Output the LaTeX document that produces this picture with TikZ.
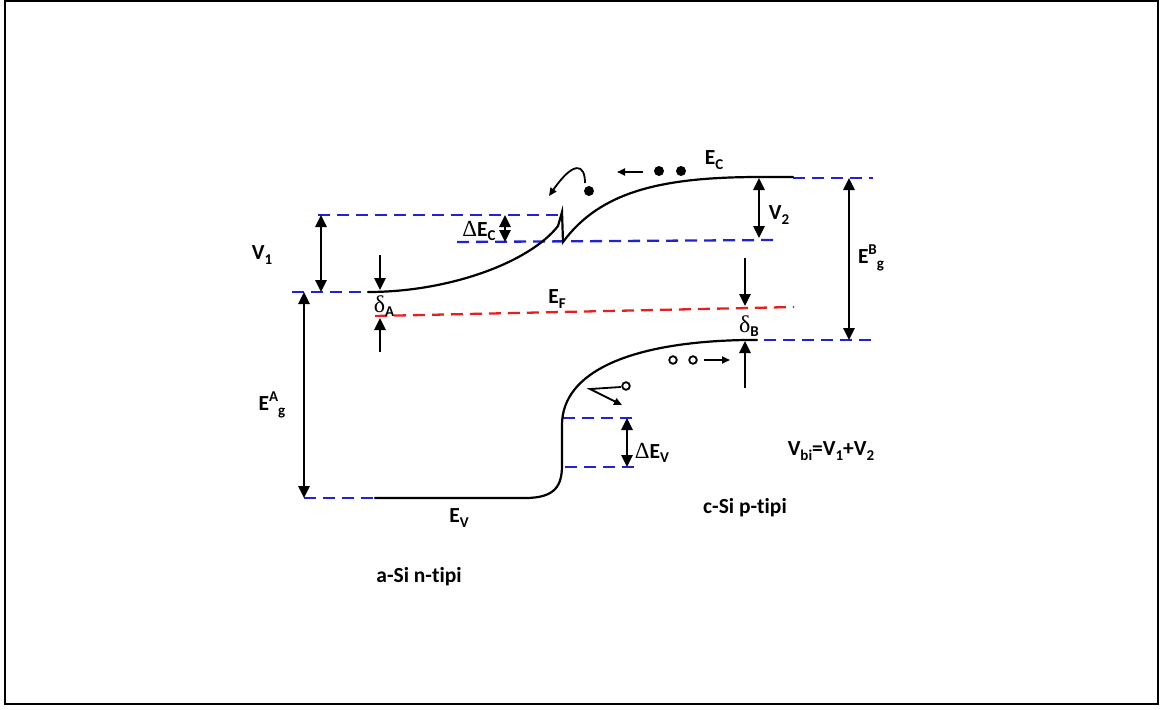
\documentclass[tikz,border=0pt]{standalone}
\usepackage{fontspec}
\setmainfont[Ligatures=NoCommon]{Carlito}
\newfontfamily\grk{Liberation Serif}
\usetikzlibrary{arrows.meta}
\definecolor{lvblue}{RGB}{35,35,205}
\definecolor{lvred}{RGB}{228,32,32}
\newcommand{\lsub}[1]{\raisebox{-0.45ex}{\fontsize{15}{15}\selectfont #1}}
\newcommand{\lsup}[1]{\raisebox{0.9ex}{\fontsize{15}{15}\selectfont #1}}
\tikzset{
  band/.style={line width=2.2pt, line cap=round},
  bdash/.style={line width=2.3pt, lvblue, dash pattern=on 12pt off 7pt},
  rdash/.style={line width=2.3pt, lvred, dash pattern=on 12pt off 7pt},
  darr/.style={line width=2.6pt, {Triangle[length=12pt,width=11pt]}-{Triangle[length=12pt,width=11pt]}},
  sarr/.style={line width=2.6pt, -{Triangle[length=12pt,width=11pt]}},
  tarr/.style={line width=1.8pt, -{Triangle[length=8pt,width=7pt]}},
  lbl/.style={font=\bfseries\fontsize{21.5}{21.5}\selectfont, inner sep=0pt},
  el/.style={fill=black, draw=none},
  hole/.style={draw=black, line width=1.8pt, fill=white}
}
\begin{document}
\begin{tikzpicture}[x=1pt,y=-1pt]
\useasboundingbox (0,0) rectangle (1166,709);
\draw[line width=2.4pt] (5,1) rectangle (1158,704);

% coordinates
\coordinate (v1t) at (321,215); \coordinate (v1b) at (321,292);
\coordinate (egat) at (304,292); \coordinate (egab) at (304,498);
\coordinate (dect) at (505,215); \coordinate (decb) at (505,242);
\coordinate (v2t) at (759,178); \coordinate (v2b) at (759,238);
\coordinate (egbt) at (849,178); \coordinate (egbb) at (849,340);
\coordinate (devt) at (627,418); \coordinate (devb) at (627,467);
\coordinate (dAa) at (380,255); \coordinate (dAb) at (380,290);
\coordinate (dAc) at (380,352); \coordinate (dAd) at (380,318);
\coordinate (dBa) at (745,258); \coordinate (dBb) at (745,306);
\coordinate (dBc) at (745,388); \coordinate (dBd) at (745,341);

% blue dashed levels
\draw[bdash] (318,215) -- (562,215);
\draw[bdash] (457,242) -- (776,240);
\draw[bdash] (793,178) -- (873,178);
\draw[bdash] (292,292) -- (368,292);
\draw[bdash] (745,340) -- (873,340);
\draw[bdash] (304,498) -- (375,498);
\draw[bdash] (563,418) -- (636,418);
\draw[bdash] (565,467) -- (638,467);
% Fermi level
\draw[rdash] (375,316) -- (794,307);

% conduction band
\draw[band] (368,292) .. controls (450,292) and (530,262) .. (558,226) -- (562,212) -- (563,242)
  .. controls (600,192) and (660,177) .. (760,177) -- (793,177);
% valence band
\draw[band] (375,498) -- (525,498) .. controls (556,498) and (562,485) .. (562,465) -- (562,425)
  .. controls (562,372) and (630,342) .. (745,340) -- (757,340);

% arrows
\draw[darr] (v1t) -- (v1b);
\draw[darr] (egat) -- (egab);
\draw[darr] (dect) -- (decb);
\draw[darr] (v2t) -- (v2b);
\draw[darr] (egbt) -- (egbb);
\draw[darr] (devt) -- (devb);
\draw[sarr] (dAa) -- (dAb);
\draw[sarr] (dAc) -- (dAd);
\draw[sarr] (dBa) -- (dBb);
\draw[sarr] (dBc) -- (dBd);

% electrons
\fill[el] (659,171) circle (5);
\fill[el] (681,171) circle (5);
\fill[el] (589,191) circle (5);
\coordinate (ea1) at (643,172); \coordinate (ea2) at (617,172);
\draw[tarr] (ea1) -- (ea2);
\coordinate (ec1) at (585,183); \coordinate (ec2) at (549,196);
\draw[tarr] (ec1) .. controls (585,164) and (574,160) .. (ec2);

% holes
\draw[hole] (673,360) circle (3.8);
\draw[hole] (693,360) circle (3.8);
\coordinate (ha1) at (704,360); \coordinate (ha2) at (730,360);
\draw[tarr] (ha1) -- (ha2);
\draw[hole] (626,386) circle (3.8);
\coordinate (hb1) at (621,387); \coordinate (hb2) at (622,405);
\draw[tarr] (hb1) -- (590,389) -- (hb2);

% labels
\node[lbl] (lv1) at (262,255) {V\lsub{1}};
\node[lbl] (lv2) at (779,215) {V\lsub{2}};
\node[lbl] (lec) at (714,160) {E\lsub{C}};
\node[lbl] (ldec) at (479,231) {{\grk\mdseries\fontsize{23}{23}\selectfont Δ}E\lsub{C}};
\node[lbl] (lef) at (557,299) {E\lsub{F}};
\node[lbl] (lda) at (384,306) {{\grk\mdseries\fontsize{24}{24}\selectfont δ}\lsub{A}};
\node[lbl] (ldb) at (749,326) {{\grk\mdseries\fontsize{24}{24}\selectfont δ}\lsub{B}};
\node[lbl] (legb) at (871,258) {E\lsup{B}\lsub{g}};
\node[lbl] (lega) at (272,405) {E\lsup{A}\lsub{g}};
\node[lbl] (ldev) at (652,453) {{\grk\mdseries\fontsize{23}{23}\selectfont Δ}E\lsub{V}};
\node[lbl] (lvbi) at (831,451) {V\lsub{bi}=V\lsub{1}+V\lsub{2}};
\node[lbl] (lev) at (459,518) {E\lsub{V}};
\node[lbl] (lcsi) at (745,508) {c-Si p-tipi};
\node[lbl] (lasi) at (419,577) {a-Si n-tipi};
\end{tikzpicture}
\end{document}
